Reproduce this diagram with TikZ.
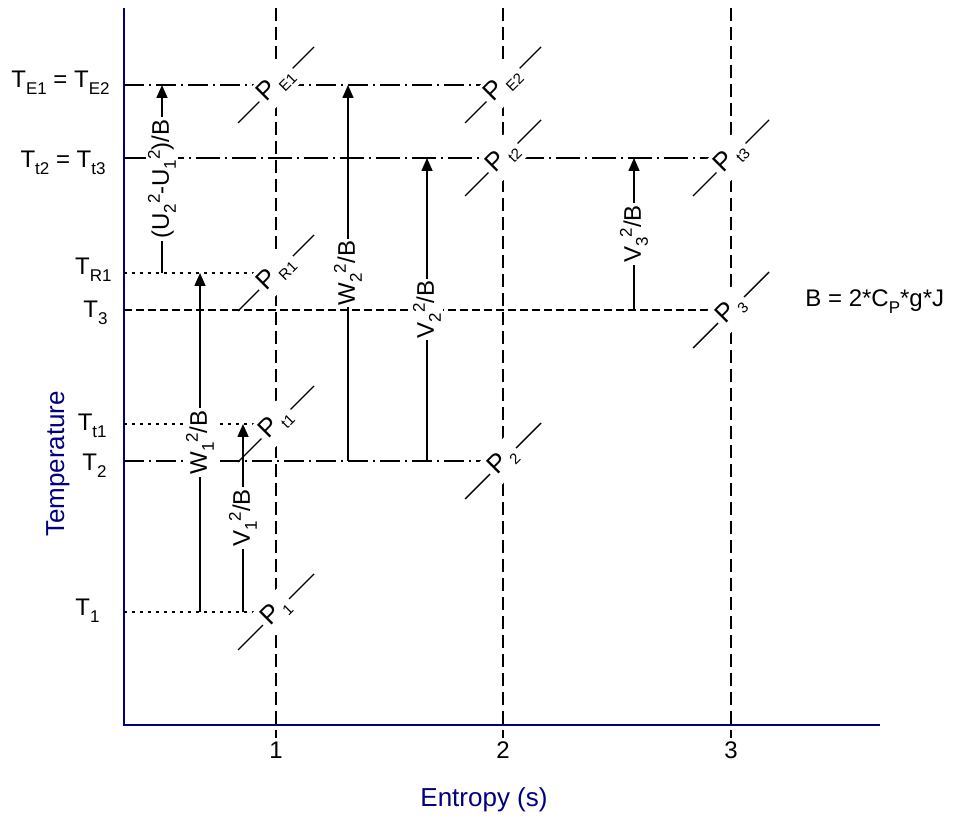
\documentclass[tikz,border=0pt]{standalone}
\usepackage{fontspec}
\setmainfont{Liberation Sans}
\usetikzlibrary{arrows.meta}
\definecolor{Navy}{HTML}{000080}
\newcommand{\sub}[1]{\raisebox{-3.5pt}{\fontsize{8.5}{10}\selectfont #1}}
\newcommand{\sups}[1]{\raisebox{4.5pt}{\fontsize{8.5}{10}\selectfont #1}}
\newcommand{\psub}[1]{\kern1.5pt\raisebox{-3pt}{\fontsize{7.5}{8}\selectfont #1}}
\tikzset{
  axis/.style={Navy,line width=1.2pt},
  gridline/.style={line width=0.8pt,dash pattern=on 6.5pt off 3pt},
  dashdot/.style={line width=0.8pt,dash pattern=on 10pt off 2.5pt on 1pt off 2.5pt},
  longdashdot/.style={line width=0.8pt,dash pattern=on 12pt off 2.5pt on 1pt off 2.5pt},
  shortdash/.style={line width=0.8pt,dash pattern=on 4pt off 2pt},
  dotline/.style={line width=0.8pt,dash pattern=on 1.5pt off 2.5pt},
  isobar/.style={line width=0.7pt},
  rise/.style={line width=0.8pt,-{Triangle[length=6.5pt,width=5.5pt]}},
  riselabel/.style={midway,rotate=90,fill=white,inner sep=1pt},
  plabel/.style={rotate=45,fill=white,inner sep=2pt,font=\fontsize{13}{14}\selectfont},
  tlabel/.style={anchor=base east,inner sep=0pt},
}
\begin{document}
\begin{tikzpicture}[x=0.5pt,y=-0.5pt,font=\fontsize{12}{14}\selectfont]
\useasboundingbox (0,0) rectangle (956,822);
\coordinate (o) at (124,725);
\coordinate (ytop) at (124,8);
\coordinate (xend) at (880,725);
\foreach \n/\x/\y in {pE1/276/85,pE2/503/85,pt2/503/158,pt3/731/158,pR1/276/273,p3/731/310,pt1/276/424,p2/503/461,p1/276/612}
  \coordinate (\n) at (\x,\y);
\foreach \n/\x/\t in {s1/276/1,s2/503/2,s3/731/3}{
  \coordinate (\n) at (\x,8);
  \coordinate (\n-end) at (\x,738);
  \draw[gridline] (\n) -- (\n-end);
  \node (\n-lab) at (\x,750) {\t};
}
\draw[axis] (ytop) -- (o) -- (xend);
\draw[dashdot] (o |- pE2) -- (pE2);
\draw[longdashdot] (o |- pt3) -- (pt3);
\draw[dotline] (o |- pR1) -- (pR1);
\draw[shortdash] (o |- p3) -- (p3);
\draw[dotline] (o |- pt1) -- (pt1);
\draw[dashdot] (o |- p2) -- (p2);
\draw[dotline] (o |- p1) -- (p1);
\node[tlabel] (tE) at (110,88) {T\sub{E1} = T\sub{E2}};
\node[tlabel] (tt) at (106,168) {T\sub{t2} = T\sub{t3}};
\node[tlabel] (tR1) at (112,275) {T\sub{R1}};
\node[tlabel] (t3) at (108,318) {T\sub{3}};
\node[tlabel] (tt1) at (107,430) {T\sub{t1}};
\node[tlabel] (t2) at (107,470) {T\sub{2}};
\node[tlabel] (t1) at (100,615) {T\sub{1}};
\foreach \n/\s in {pE1/E1,pE2/E2,pt2/t2,pt3/t3,pR1/R1,p3/3,pt1/t1,p2/2,p1/1}
  \draw[isobar] ([shift={(-38,38)}]\n) -- ([shift={(38,-38)}]\n);
\foreach \r/\x/\a/\b/\t in {rU/162/pR1/pE1/{(U\sub{2}\sups{2}-U\sub{1}\sups{2})/B},rW1/200/p1/pR1/{W\sub{1}\sups{2}/B},rV1/243/p1/pt1/{V\sub{1}\sups{2}/B},rW2/348/p2/pE1/{W\sub{2}\sups{2}/B},rV2/427/p2/pt2/{V\sub{2}\sups{2}/B},rV3/634/p3/pt3/{V\sub{3}\sups{2}/B}}{
  \coordinate (\r) at (\x,0);
  \draw[rise] (\r |- \a) -- node[riselabel] (\r-lab) {\t} (\r |- \b);
}
\foreach \n/\s in {pE1/E1,pE2/E2,pt2/t2,pt3/t3,pR1/R1,p3/3,pt1/t1,p2/2,p1/1}
  \node[plabel] (\n-lab) at (\n) {P\psub{\s}};
\node[Navy,rotate=90,font=\fontsize{13}{14}\selectfont] (ylab) at (58,464) {Temperature};
\node[Navy,font=\fontsize{13}{14}\selectfont] (xlab) at (484,800) {Entropy (s)};
\node[anchor=base west,inner sep=0pt] (bdef) at (805,307) {B = 2*C\sub{P}*g*J};
\end{tikzpicture}
\end{document}
